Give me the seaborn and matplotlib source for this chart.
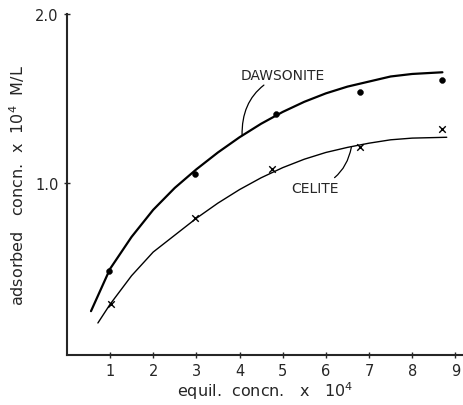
import matplotlib
matplotlib.use('Agg')
import matplotlib.pyplot as plt
import seaborn as sns
import pandas as pd

# measured points
daw_x = [0.97, 2.97, 4.84, 6.78, 8.68]
daw_y = [0.48, 1.05, 1.41, 1.54, 1.61]
cel_x = [1.02, 2.98, 4.76, 6.78, 8.70]
cel_y = [0.28, 0.79, 1.08, 1.21, 1.32]

# hand-drawn curves
daw_curve_x = [0.56, 1.0, 1.5, 2.0, 2.5, 3.0, 3.5, 4.0, 4.5, 5.0, 5.5, 6.0, 6.5, 7.0, 7.5, 8.0, 8.7]
daw_curve_y = [0.24, 0.49, 0.68, 0.84, 0.97, 1.08, 1.18, 1.27, 1.35, 1.42, 1.48, 1.53, 1.57, 1.60, 1.63, 1.645, 1.655]
cel_curve_x = [0.72, 1.0, 1.5, 2.0, 2.5, 3.0, 3.5, 4.0, 4.5, 5.0, 5.5, 6.0, 6.5, 7.0, 7.5, 8.0, 8.8]
cel_curve_y = [0.17, 0.28, 0.45, 0.59, 0.69, 0.79, 0.88, 0.96, 1.03, 1.09, 1.14, 1.18, 1.21, 1.235, 1.255, 1.265, 1.27]

x_ticks = [1, 2, 3, 4, 5, 6, 7, 8, 9]
y_ticks = [1.0, 2.0]

sns.set_style('ticks')
plt.rcParams['font.family'] = ['DejaVu Sans']

fig = plt.figure(figsize=(4.64, 4.06), dpi=100)
ax = fig.add_axes([0.144, 0.123, 0.856, 0.84])

sns.lineplot(x=daw_curve_x, y=daw_curve_y, sort=False, color='black', lw=1.6, ax=ax)
sns.lineplot(x=cel_curve_x, y=cel_curve_y, sort=False, color='black', lw=1.0, ax=ax)
sns.scatterplot(x=daw_x, y=daw_y, marker='o', s=18, color='black', edgecolor='black', ax=ax)
sns.scatterplot(x=cel_x, y=cel_y, marker='x', s=22, color='black', linewidth=1.0, ax=ax)

# leader labels
ax.annotate('DAWSONITE', xy=(4.06, 1.28), xytext=(4.02, 1.64), fontsize=10,
            va='center', ha='left',
            arrowprops=dict(arrowstyle='-', color='black', lw=0.9,
                            connectionstyle='arc3,rad=0.35', shrinkA=0, shrinkB=0))
ax.annotate('CELITE', xy=(6.59, 1.21), xytext=(6.3, 0.97), fontsize=10,
            va='center', ha='right',
            arrowprops=dict(arrowstyle='-', color='black', lw=0.9,
                            connectionstyle='arc3,rad=0.3', shrinkA=0, shrinkB=0))

ax.set_xlim(0, 9.2)
ax.set_ylim(-0.02, 2.0)
ax.set_xticks(x_ticks)
ax.set_xticklabels([str(t) for t in x_ticks])
ax.set_yticks(y_ticks)
ax.set_yticklabels(['1.0', '2.0'])
ax.tick_params(direction='inout', length=4, width=1, labelsize=10.5, pad=4)
ax.set_xlabel('equil.  concn.   x   10$^4$', fontsize=11.5, labelpad=1)
ax.set_ylabel('adsorbed   concn.  x  10$^4$  M/L', fontsize=11.5, labelpad=6)
for s in ['left', 'bottom']:
    ax.spines[s].set_linewidth(1.5)
sns.despine(ax=ax)

fig.savefig('out.png', dpi=100)
